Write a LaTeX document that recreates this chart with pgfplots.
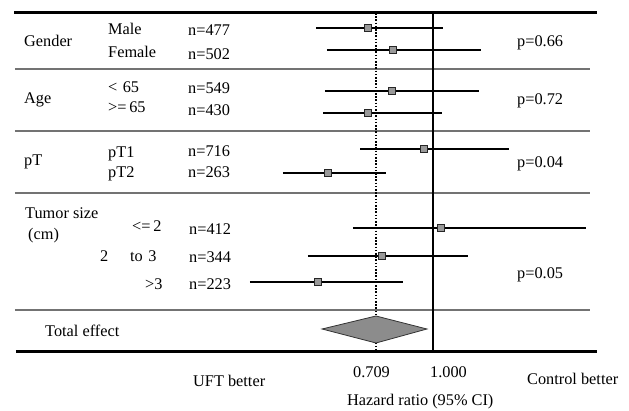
\documentclass[border=0pt]{standalone}
\usepackage{pgfplots}
\pgfplotsset{compat=1.18}
\usepackage{fontspec}
\setmainfont{Liberation Serif}
\begin{document}
\begin{tikzpicture}[font=\fontsize{16.3}{19}\selectfont]
\begin{axis}[name=ax, width=629pt, height=411pt, scale only axis,
  xmode=log, xmin=0.0733, xmax=3.264, ymin=0, ymax=411, y dir=reverse,
  axis lines=none, clip=false]
% table rules
\addplot[black, line width=3pt] coordinates {(0.0798,12.5) (2.69,12.5)};
\addplot[black, line width=3pt] coordinates {(0.0807,352) (2.69,352)};
\addplot[black!55, line width=1.8pt] coordinates {(0.0802,69) (2.579,69)};
\addplot[black!55, line width=1.8pt] coordinates {(0.0802,131) (2.579,131)};
\addplot[black!55, line width=1.8pt] coordinates {(0.0802,193) (2.579,193)};
\addplot[black!55, line width=1.8pt] coordinates {(0.0802,310) (2.579,310)};
% reference lines
\addplot[black, line width=2pt, dash pattern=on 1.6pt off 1.6pt] coordinates {(0.709,13) (0.709,352)};
\addplot[black, line width=2.4pt] coordinates {(1.0,12) (1.0,352)};
% confidence intervals
\addplot[black, line width=2.4pt] coordinates {(0.494,28) (1.062,28)};
\addplot[black, line width=2.4pt] coordinates {(0.527,50) (1.336,50)};
\addplot[black, line width=2.4pt] coordinates {(0.521,91) (1.320,91)};
\addplot[black, line width=2.4pt] coordinates {(0.515,113) (1.056,113)};
\addplot[black, line width=2.4pt] coordinates {(0.644,149) (1.582,149)};
\addplot[black, line width=2.4pt] coordinates {(0.404,173) (0.753,173)};
\addplot[black, line width=2.4pt] coordinates {(0.617,228) (2.517,228)};
\addplot[black, line width=2.4pt] coordinates {(0.470,256) (1.235,256)};
\addplot[black, line width=2.4pt] coordinates {(0.331,282) (0.834,282)};
% point estimates
\addplot[only marks, mark=square*, mark size=3.6pt,
  mark options={fill=black!40, draw=black!85, line width=1.2pt}] coordinates {
  (0.676,28) (0.786,50) (0.781,91) (0.676,113) (0.947,149) (0.531,173)
  (1.050,228) (0.735,256) (0.500,282)};
% total effect diamond
\addplot[fill=black!45, draw=black!80, line width=0.8pt] coordinates {
  (0.512,329) (0.709,316) (0.964,329) (0.709,343)} -- cycle;
\end{axis}
\begin{scope}[shift={(ax.north west)}, x=1pt, y=-1pt, every node/.style={anchor=base west, inner sep=0pt}]
\path (0,0) rectangle (629,411);
\node at (24,47) {Gender};
\node at (108,35) {Male};
\node at (108,58) {Female};
\node at (188,36) {n=477};
\node at (188,60) {n=502};
\node at (24,104) {Age};
\node at (108,93) {<\,\,65};
\node at (108,113) {>=\,65};
\node at (188,94) {n=549};
\node at (188,116) {n=430};
\node at (24,166) {pT};
\node at (108,158) {pT1};
\node at (108,178) {pT2};
\node at (188,157) {n=716};
\node at (188,178) {n=263};
\node at (25,219) {Tumor size};
\node at (28,240) {(cm)};
\node at (132,232) {<=\,2};
\node at (100,262) {2};
\node at (130,262) {to\,\,3};
\node at (145,290) {>3};
\node at (189,235) {n=412};
\node at (189,263) {n=344};
\node at (189,290) {n=223};
\node at (45,337) {Total effect};
\node at (517,47) {p=0.66};
\node at (517,105) {p=0.72};
\node at (517,168) {p=0.04};
\node at (517,279) {p=0.05};
\node at (193,387) {UFT better};
\node at (353,378) {0.709};
\node at (430,378) {1.000};
\node at (527,385) {Control better};
\node at (347,406) {Hazard ratio (95\% CI)};
\end{scope}
\end{tikzpicture}
\end{document}
